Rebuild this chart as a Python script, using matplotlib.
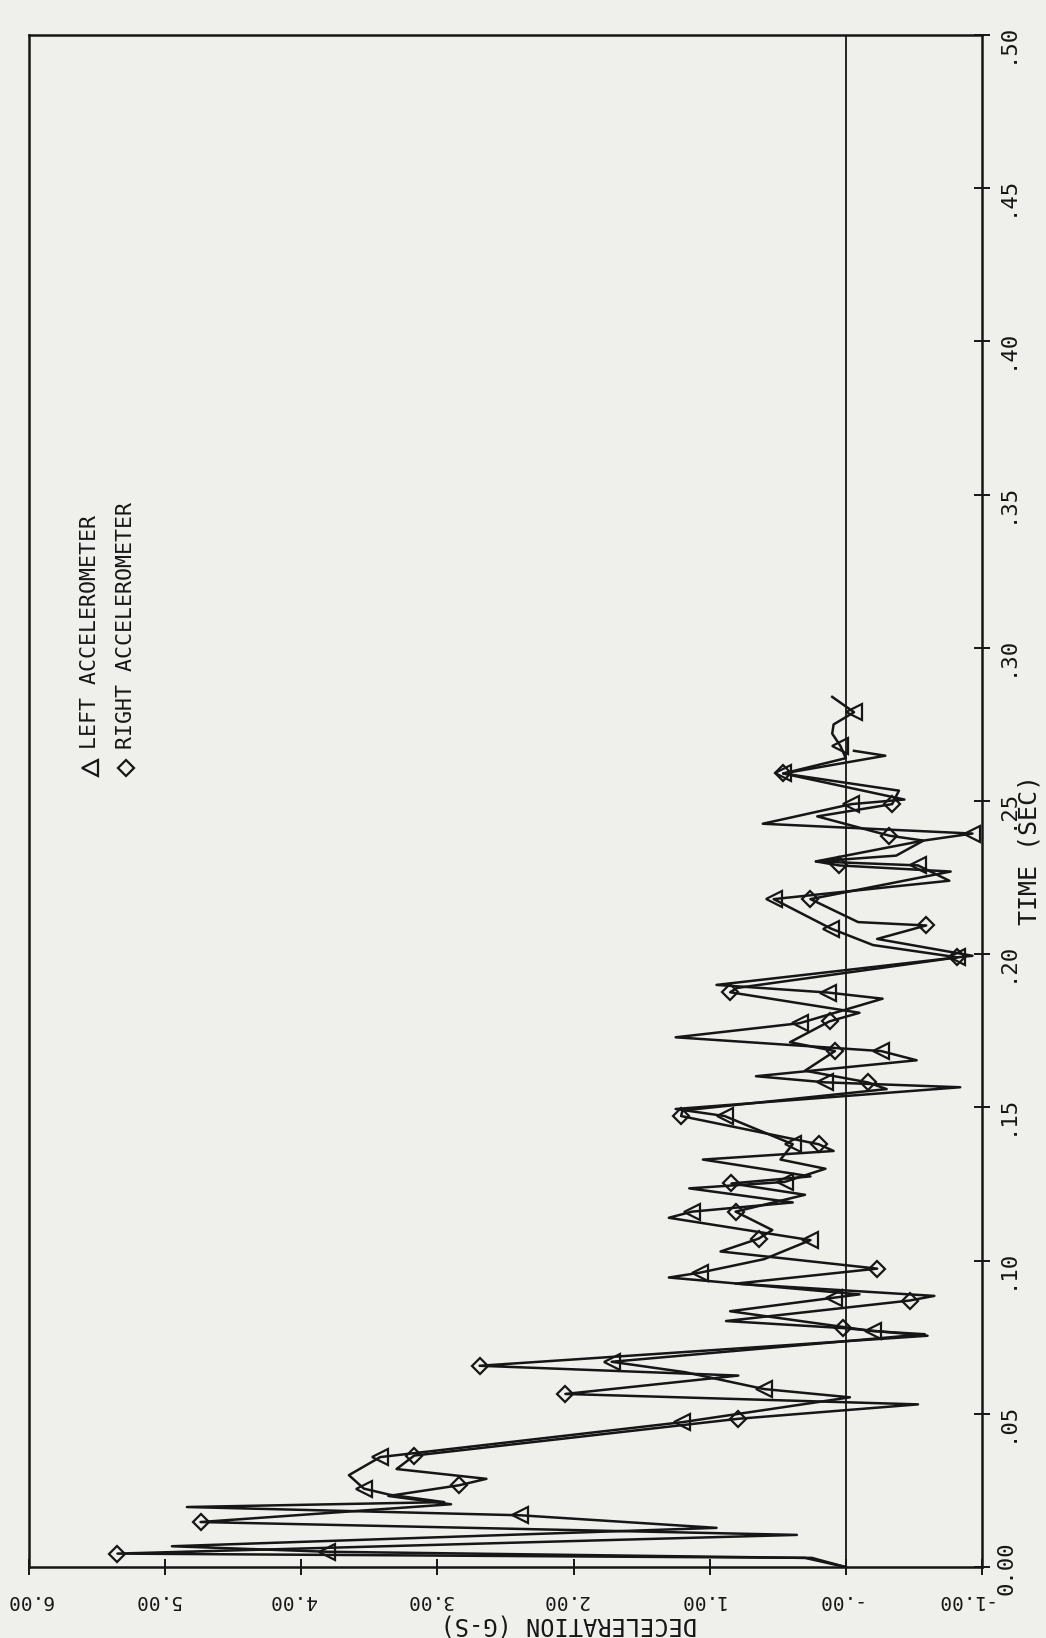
import matplotlib
matplotlib.use('Agg')
import matplotlib.pyplot as plt
from matplotlib.transforms import ScaledTranslation

# serie izquierda (triangulos): tiempo (s) y desaceleracion (G)
LEFT_T = [0.0000, 0.0030, 0.0050, 0.0068, 0.0128, 0.0169, 0.0196, 0.0212, 0.0236, 0.0256, 0.0300, 0.0359,
          0.0473, 0.0554, 0.0581, 0.0636, 0.0670, 0.0760, 0.0770, 0.0835, 0.0879, 0.0890, 0.0945, 0.0961,
          0.1005, 0.1067, 0.1140, 0.1160, 0.1190, 0.1236, 0.1257, 0.1300, 0.1330, 0.1380, 0.1472, 0.1495,
          0.1566, 0.1582, 0.1602, 0.1654, 0.1684, 0.1729, 0.1775, 0.1855, 0.1875, 0.1900, 0.1990, 0.2030,
          0.2084, 0.2180, 0.2240, 0.2290, 0.2303, 0.2371, 0.2394, 0.2426, 0.2490, 0.2505, 0.2590, 0.2640,
          0.2680, 0.2720, 0.2750, 0.2790, 0.2840]
LEFT_D = [0.00, 0.30, 3.81, 4.95, 0.95, 2.39, 4.84, 2.95, 3.35, 3.54, 3.65, 3.42,
          1.20, -0.03, 0.60, 1.18, 1.72, -0.58, -0.20, 0.85, 0.09, -0.10, 1.30, 1.07,
          0.60, 0.26, 1.30, 1.13, 0.39, 1.15, 0.45, 0.15, 0.48, 0.39, 0.89, 1.25,
          -0.84, 0.15, 0.66, -0.52, -0.26, 1.25, 0.34, -0.27, 0.13, 0.95, -0.82, -0.20,
          0.11, 0.53, -0.76, -0.53, 0.22, -0.57, -0.93, 0.61, -0.04, -0.43, 0.46, 0.00,
          0.04, 0.10, 0.09, -0.06, 0.10]
LEFT_MARK_T = [0.0050, 0.0169, 0.0256, 0.0359, 0.0473, 0.0581, 0.0670, 0.0770, 0.0879, 0.0961,
               0.1067, 0.1160, 0.1257, 0.1380, 0.1472, 0.1582, 0.1684, 0.1775, 0.1875, 0.1990,
               0.2084, 0.2180, 0.2290, 0.2394, 0.2490, 0.2590, 0.2680, 0.2790]
LEFT_MARK_D = [3.81, 2.39, 3.54, 3.42, 1.20, 0.60, 1.72, -0.20, 0.09, 1.07,
               0.26, 1.13, 0.45, 0.39, 0.89, 0.15, -0.26, 0.34, 0.13, -0.82,
               0.11, 0.53, -0.53, -0.93, -0.04, 0.46, 0.04, -0.06]

# serie derecha (rombos)
RIGHT_T = [0.0000, 0.0030, 0.0044, 0.0105, 0.0147, 0.0205, 0.0232, 0.0267, 0.0288, 0.0320, 0.0364, 0.0484,
           0.0531, 0.0565, 0.0625, 0.0657, 0.0755, 0.0780, 0.0803, 0.0870, 0.0885, 0.0925, 0.0974, 0.1030,
           0.1072, 0.1100, 0.1160, 0.1215, 0.1252, 0.1275, 0.1330, 0.1358, 0.1380, 0.1472, 0.1490, 0.1560,
           0.1582, 0.1620, 0.1684, 0.1713, 0.1781, 0.1809, 0.1876, 0.1890, 0.1990, 0.1995, 0.2050, 0.2094,
           0.2105, 0.2180, 0.2270, 0.2290, 0.2303, 0.2322, 0.2371, 0.2387, 0.2450, 0.2490, 0.2534, 0.2590,
           0.2648, 0.2664]
RIGHT_D = [0.00, 0.25, 5.35, 0.36, 4.74, 2.90, 3.36, 2.84, 2.64, 3.30, 3.17, 0.79,
           -0.53, 2.06, 0.79, 2.69, -0.60, 0.02, 0.88, -0.47, -0.65, 0.81, -0.23, 0.92,
           0.64, 0.54, 0.81, 0.30, 0.84, 0.26, 1.05, 0.09, 0.20, 1.21, 1.20, -0.30,
           -0.16, 0.30, 0.08, 0.41, 0.12, -0.10, 0.85, 0.80, -0.82, -0.93, -0.23, -0.59,
           -0.09, 0.26, -0.77, 0.05, 0.22, -0.37, -0.57, -0.32, 0.21, -0.34, -0.39, 0.46,
           -0.29, -0.06]
RIGHT_MARK_T = [0.0044, 0.0147, 0.0267, 0.0364, 0.0484, 0.0565, 0.0657, 0.0780, 0.0870, 0.0974,
                0.1072, 0.1160, 0.1252, 0.1380, 0.1472, 0.1582, 0.1684, 0.1781, 0.1876, 0.1990,
                0.2094, 0.2180, 0.2290, 0.2387, 0.2490, 0.2590]
RIGHT_MARK_D = [5.35, 4.74, 2.84, 3.17, 0.79, 2.06, 2.69, 0.02, -0.47, -0.23,
                0.64, 0.81, 0.84, 0.20, 1.21, -0.16, 0.08, 0.12, 0.85, -0.82,
                -0.59, 0.26, 0.05, -0.32, -0.34, 0.46]

TIME_TICKS = [0.00, 0.05, 0.10, 0.15, 0.20, 0.25, 0.30, 0.35, 0.40, 0.45, 0.50]
TIME_LABELS = ['0.00', '.05', '.10', '.15', '.20', '.25', '.30', '.35', '.40', '.45', '.50']
DECEL_TICKS = [6, 5, 4, 3, 2, 1, 0, -1]
DECEL_LABELS = ['6.00', '5.00', '4.00', '3.00', '2.00', '1.00', '-.00', '-1.00']
LEGEND_LABELS = ['LEFT ACCELEROMETER', 'RIGHT ACCELEROMETER']

tinta = '#161616'
papel = '#efefeb'
fuente = 'DejaVu Sans Mono'

fig = plt.figure(figsize=(10.46, 16.38), dpi=100, facecolor=papel)
ax = fig.add_axes([0.0277, 0.0433, 0.9111, 0.9353])
ax.set_facecolor(papel)

# el grafico original esta girado: tiempo en vertical, desaceleracion en horizontal
ax.plot(LEFT_D, LEFT_T, color=tinta, lw=1.8, solid_joinstyle='round')
ax.plot(RIGHT_D, RIGHT_T, color=tinta, lw=1.8, solid_joinstyle='round')
ax.plot(LEFT_MARK_D, LEFT_MARK_T, ls='none', marker='<', ms=11, mfc='none', mec=tinta, mew=1.6)
ax.plot(RIGHT_MARK_D, RIGHT_MARK_T, ls='none', marker='D', ms=8, mfc='none', mec=tinta, mew=1.6)
ax.axvline(0, color=tinta, lw=1.3)

ax.set_xlim(6, -1)
ax.set_ylim(0, 0.5)
for s in ax.spines.values():
    s.set_color(tinta)
    s.set_linewidth(1.8)

ax.set_xticks(DECEL_TICKS, DECEL_LABELS)
ax.yaxis.tick_right()
ax.set_yticks(TIME_TICKS, TIME_LABELS)
ax.tick_params(axis='x', direction='inout', length=11, width=1.4, color=tinta,
               labelrotation=180, pad=12, labelsize=14, labelcolor=tinta)
ax.tick_params(axis='y', direction='inout', length=11, width=1.4, color=tinta,
               labelrotation=90, pad=5, labelsize=16, labelcolor=tinta)
for lab in ax.get_xticklabels() + ax.get_yticklabels():
    lab.set_family(fuente)

# pequenos corrimientos de las etiquetas (en puntos), como en el trazador
corr_x = [0, -6, -6, -6, -6, -6, -6, -14]
for tick, dx in zip(ax.xaxis.get_major_ticks(), corr_x):
    tick.label1.set_transform(tick.label1.get_transform() + ScaledTranslation(dx / 72, 0, fig.dpi_scale_trans))
corr_y = [13, 3, 3, 3, 3, 3, 3, 3, 3, 3, 3]
for tick, dy in zip(ax.yaxis.get_major_ticks(), corr_y):
    tick.label2.set_transform(tick.label2.get_transform() + ScaledTranslation(0, dy / 72, fig.dpi_scale_trans))

ax.yaxis.set_label_position('right')
ax.set_ylabel('TIME (SEC)', rotation=90, fontsize=18, family=fuente, color=tinta)
ax.yaxis.label.set_rotation_mode('default')
ax.yaxis.label.set_ha('center')
ax.yaxis.label.set_va('center')
ax.yaxis.set_label_coords(1.050, 0.468)
ax.set_xlabel('DECELERATION (G-S)', rotation=180, fontsize=17, family=fuente, color=tinta,
              ha='center', va='center')
ax.xaxis.set_label_coords(0.566, -0.0372)

# leyenda dibujada a mano, girada como el resto
leyenda_x = [0.064, 0.102]
simbolos = ['<', 'D']
tamanos = [11, 8]
for lx, simb, tam, texto in zip(leyenda_x, simbolos, tamanos, LEGEND_LABELS):
    ax.plot([lx], [0.5215], transform=ax.transAxes, marker=simb, ms=tam, mfc='none',
            mec=tinta, mew=1.6, ls='none', clip_on=False)
    ax.text(lx, 0.534, texto, transform=ax.transAxes, rotation=90, ha='center', va='bottom',
            fontsize=15.5, family=fuente, color=tinta)

fig.savefig('out.png', dpi=100, facecolor=papel)
